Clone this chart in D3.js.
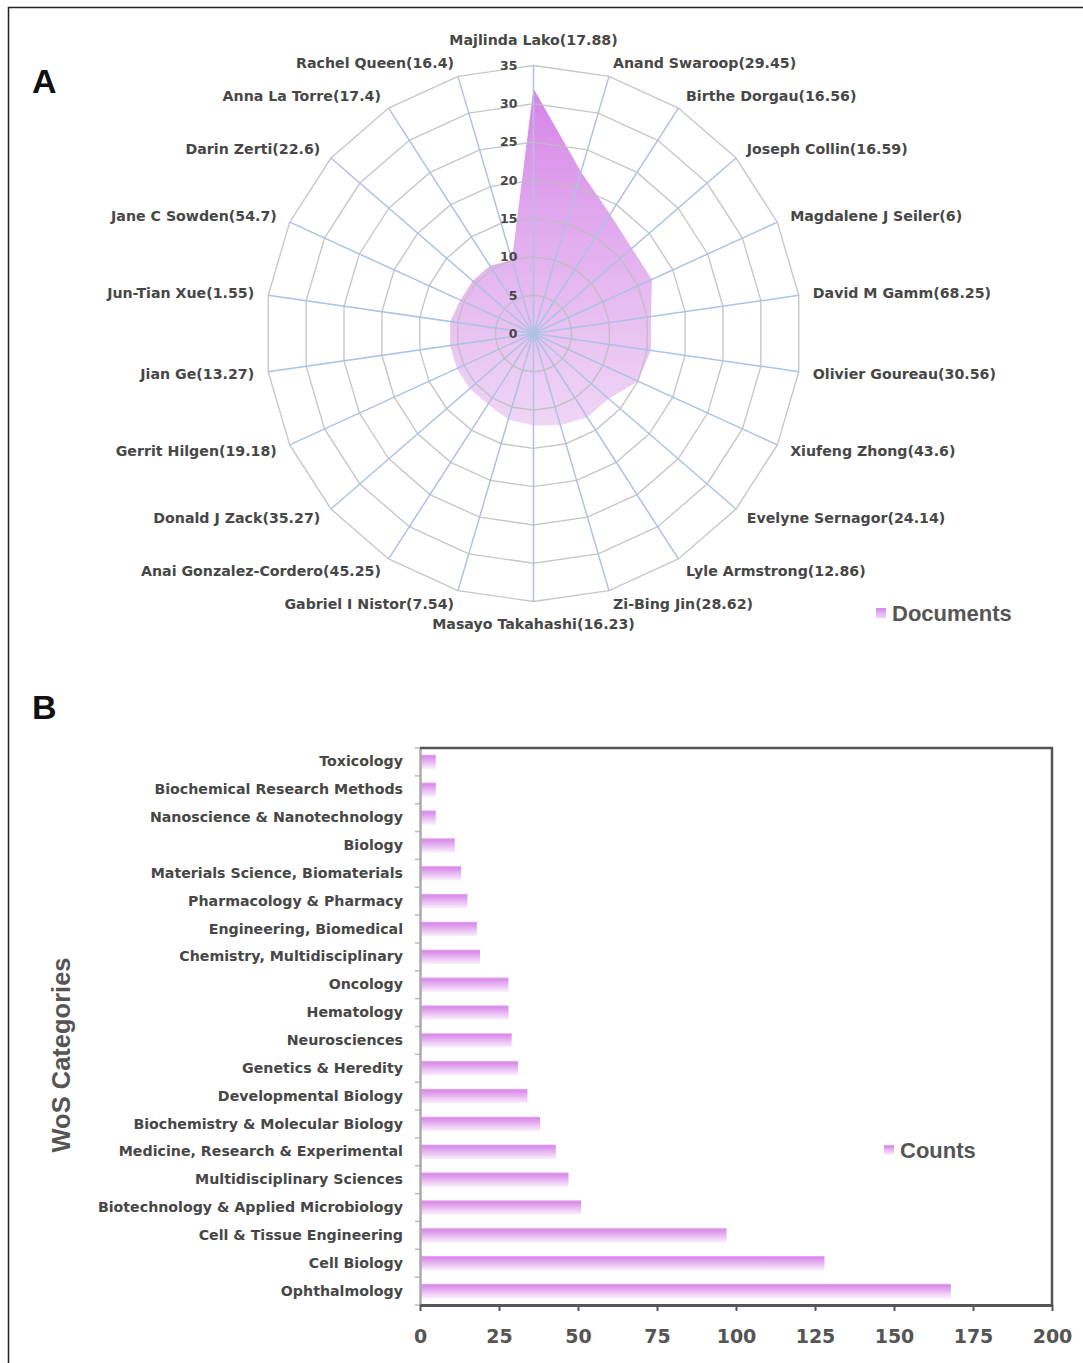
<!DOCTYPE html>
<html>
<head>
<meta charset="utf-8">
<script src="https://cdn.jsdelivr.net/npm/d3@7"></script>
<style>
body { margin: 0; background: #fff; }
</style>
</head>
<body>
<svg id="chart" width="1083" height="1363" font-family="Liberation Sans, Arial, sans-serif"></svg>
<script>
// Panel A: authors (labels as printed) and documents per author
var authors = ["Majlinda Lako(17.88)", "Anand Swaroop(29.45)", "Birthe Dorgau(16.56)", "Joseph Collin(16.59)",
	"Magdalene J Seiler(6)", "David M Gamm(68.25)", "Olivier Goureau(30.56)", "Xiufeng Zhong(43.6)",
	"Evelyne Sernagor(24.14)", "Lyle Armstrong(12.86)", "Zi-Bing Jin(28.62)", "Masayo Takahashi(16.23)",
	"Gabriel I Nistor(7.54)", "Anai Gonzalez-Cordero(45.25)", "Donald J Zack(35.27)", "Gerrit Hilgen(19.18)",
	"Jian Ge(13.27)", "Jun-Tian Xue(1.55)", "Jane C Sowden(54.7)", "Darin Zerti(22.6)",
	"Anna La Torre(17.4)", "Rachel Queen(16.4)"];
var documents = [32, 22, 18.5, 17, 17, 15.5, 15.5, 15, 13, 13, 12.5, 12, 11.7, 11, 11, 11, 11, 11, 10.5, 10.5, 10.5, 10];
var radarTicks = [0, 5, 10, 15, 20, 25, 30, 35];

// Panel B: WoS categories (top to bottom) and counts
var categories = ["Toxicology", "Biochemical Research Methods", "Nanoscience & Nanotechnology", "Biology",
	"Materials Science, Biomaterials", "Pharmacology & Pharmacy", "Engineering, Biomedical",
	"Chemistry, Multidisciplinary", "Oncology", "Hematology", "Neurosciences", "Genetics & Heredity",
	"Developmental Biology", "Biochemistry & Molecular Biology", "Medicine, Research & Experimental",
	"Multidisciplinary Sciences", "Biotechnology & Applied Microbiology", "Cell & Tissue Engineering",
	"Cell Biology", "Ophthalmology"];
var counts = [5, 5, 5, 11, 13, 15, 18, 19, 28, 28, 29, 31, 34, 38, 43, 47, 51, 97, 128, 168];
var countTicks = [0, 25, 50, 75, 100, 125, 150, 175, 200];

var svg = d3.select("#chart");
var textColor = "#474747";
var heavy = "DejaVu Sans, Verdana, sans-serif";

// Gradients
var defs = svg.append("defs");
var g1 = defs.append("linearGradient").attr("id", "radarFill")
	.attr("x1", 0).attr("y1", 0).attr("x2", 0).attr("y2", 1);
g1.append("stop").attr("offset", "0%").attr("stop-color", "#d47ce6").attr("stop-opacity", 0.95);
g1.append("stop").attr("offset", "100%").attr("stop-color", "#e6bff0").attr("stop-opacity", 0.65);

var g2 = defs.append("linearGradient").attr("id", "barFill")
	.attr("x1", 0).attr("y1", 0).attr("x2", 0).attr("y2", 1);
g2.append("stop").attr("offset", "0%").attr("stop-color", "#e7a9f2");
g2.append("stop").attr("offset", "12%").attr("stop-color", "#d98be9");
g2.append("stop").attr("offset", "100%").attr("stop-color", "#faf1fc");

// Outer frame (top and left edges visible)
svg.append("path")
	.attr("d", "M8.5,1363 V7.5 H1083")
	.attr("fill", "none").attr("stroke", "#222").attr("stroke-width", 1.5);

// Panel letters
svg.append("text").attr("x", 32).attr("y", 93).text("A")
	.attr("font-size", 34).attr("font-weight", "bold").attr("fill", "#111");
svg.append("text").attr("x", 32).attr("y", 719).text("B")
	.attr("font-size", 34).attr("font-weight", "bold").attr("fill", "#111");

/* ---------- Radar ---------- */
var cx = 533.5, cy = 333.5;
var r = d3.scaleLinear().domain([0, 35]).range([0, 268]);
var n = authors.length;
var angle = (i) => i * 2 * Math.PI / n;
var px = (i, v) => cx + Math.sin(angle(i)) * r(v);
var py = (i, v) => cy - Math.cos(angle(i)) * r(v);

var radar = svg.append("g").attr("class", "radar");

// data polygon
radar.append("path")
	.datum(documents)
	.attr("d", (d) => "M" + d.map((v, i) => px(i, v) + "," + py(i, v)).join("L") + "Z")
	.attr("fill", "url(#radarFill)");

// rings
radar.selectAll(".ring")
	.data(radarTicks.slice(1))
	.enter().append("path")
	.attr("class", "ring")
	.attr("d", (t) => "M" + authors.map((a, i) => px(i, t) + "," + py(i, t)).join("L") + "Z")
	.attr("fill", "none")
	.attr("stroke", "#bdbdbd")
	.attr("stroke-opacity", 0.85)
	.attr("stroke-width", 1.4);

// spokes
radar.selectAll(".spoke")
	.data(authors)
	.enter().append("line")
	.attr("class", "spoke")
	.attr("x1", cx).attr("y1", cy)
	.attr("x2", (d, i) => px(i, 35))
	.attr("y2", (d, i) => py(i, 35))
	.attr("stroke", "#aec2e4")
	.attr("stroke-width", 1.5);

// tick labels
radar.selectAll(".rtick")
	.data(radarTicks)
	.enter().append("text")
	.attr("class", "rtick")
	.attr("x", cx - 16)
	.attr("y", (t) => cy - r(t))
	.attr("dy", "0.35em")
	.attr("text-anchor", "end")
	.attr("font-family", heavy)
	.attr("font-size", 12.5)
	.attr("font-weight", "bold")
	.attr("fill", textColor)
	.text((t) => t);

// author labels
radar.selectAll(".alabel")
	.data(authors)
	.enter().append("text")
	.attr("class", "alabel")
	.attr("x", (d, i) => px(i, 35 + 1.85))
	.attr("y", (d, i) => {
		var c = Math.cos(angle(i));
		var extra = Math.abs(Math.sin(angle(i))) < 0.1 ? (c > 0 ? -11 : 8) : 0;
		return py(i, 35 + 1.85) + extra;
	})
	.attr("dy", "0.35em")
	.attr("text-anchor", (d, i) => {
		var s = Math.sin(angle(i));
		return Math.abs(s) < 0.1 ? "middle" : (s > 0 ? "start" : "end");
	})
	.attr("font-family", heavy)
	.attr("font-size", 14.2)
	.attr("font-weight", "bold")
	.attr("fill", textColor)
	.text((d) => d);

// legend A
svg.append("rect").attr("x", 876).attr("y", 608).attr("width", 10).attr("height", 10)
	.attr("fill", "url(#radarFill)");
svg.append("text").attr("x", 892).attr("y", 621).text("Documents")
	.attr("font-size", 22).attr("font-weight", "bold").attr("fill", "#555");

/* ---------- Bars ---------- */
var plotLeft = 420, plotRight = 1052, plotTop = 748, plotBottom = 1305;
var x = d3.scaleLinear().domain([0, 200]).range([plotLeft, plotRight]);
var y = d3.scaleBand().domain(categories).range([plotTop, plotBottom]).paddingInner(0.48).paddingOuter(0.24);

var bars = svg.append("g").attr("class", "bars");

bars.selectAll("rect")
	.data(categories)
	.enter().append("rect")
	.attr("x", x(0) + 1)
	.attr("y", (d) => y(d))
	.attr("width", (d, i) => x(counts[i]) - x(0) - 1)
	.attr("height", y.bandwidth())
	.attr("fill", "url(#barFill)");

// band boundary ticks on left axis
var step = y.step();
bars.selectAll(".btick")
	.data(d3.range(categories.length + 1))
	.enter().append("line")
	.attr("class", "btick")
	.attr("x1", plotLeft - 5).attr("x2", plotLeft)
	.attr("y1", (i) => plotTop + i * step)
	.attr("y2", (i) => plotTop + i * step)
	.attr("stroke", "#bbb").attr("stroke-width", 1.5);

// left axis
var yAxis = bars.append("g")
	.attr("transform", "translate(" + plotLeft + ",0)")
	.call(d3.axisLeft(y).tickSize(0).tickPadding(17));
yAxis.select(".domain").attr("stroke", "#aaa").attr("stroke-width", 2.5);
yAxis.attr("font-family", heavy);
yAxis.selectAll("text")
	.attr("font-size", 14.2)
	.attr("font-weight", "bold")
	.attr("fill", textColor);

// frame top and right
bars.append("path")
	.attr("d", "M" + plotLeft + "," + plotTop + "H" + plotRight + "V" + plotBottom)
	.attr("fill", "none").attr("stroke", "#555").attr("stroke-width", 2.5);

// bottom axis
var xAxis = bars.append("g")
	.attr("transform", "translate(0," + plotBottom + ")")
	.call(d3.axisBottom(x).tickValues(countTicks).tickSize(6).tickSizeOuter(0).tickPadding(19));
xAxis.select(".domain").attr("stroke", "#555").attr("stroke-width", 3);
xAxis.selectAll(".tick line").attr("stroke", "#555").attr("stroke-width", 2);
xAxis.attr("font-family", heavy);
xAxis.selectAll("text")
	.attr("font-size", 19)
	.attr("font-weight", "bold")
	.attr("fill", "#555");

// y title
svg.append("text")
	.attr("transform", "translate(70,1055) rotate(-90)")
	.attr("text-anchor", "middle")
	.attr("font-size", 25.5)
	.attr("font-weight", "bold")
	.attr("fill", "#555")
	.text("WoS Categories");

// legend B
svg.append("rect").attr("x", 884).attr("y", 1145).attr("width", 10).attr("height", 10)
	.attr("fill", "url(#barFill)");
svg.append("text").attr("x", 900).attr("y", 1158).text("Counts")
	.attr("font-size", 22).attr("font-weight", "bold").attr("fill", "#555");
</script>
</body>
</html>
